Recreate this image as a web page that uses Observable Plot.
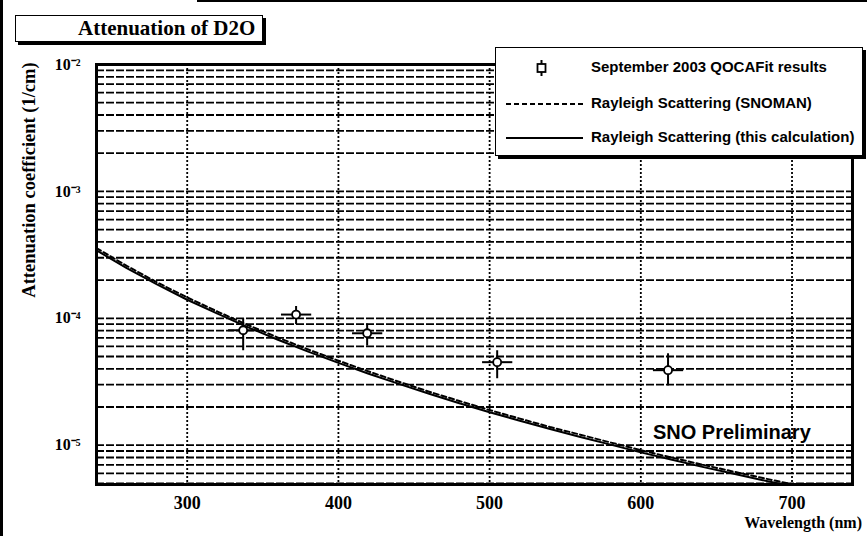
<!DOCTYPE html>
<html>
<head>
<meta charset="utf-8">
<script src="https://cdn.jsdelivr.net/npm/d3@7"></script>
<script src="https://cdn.jsdelivr.net/npm/@observablehq/plot@0.6"></script>
<style>
  html, body { margin: 0; padding: 0; background: #fff; }
  #chart { position: relative; width: 867px; height: 536px; overflow: hidden; background: #fff; }
  #chart > svg { position: absolute; left: 0; top: 0; }
  .title-box {
    position: absolute; left: 15px; top: 15px; width: 246px; height: 25px;
    border: 1px solid #000; box-shadow: 3px 3px 0 #000; background: #fff;
    font: bold 21px "Liberation Serif", serif; line-height: 25px;
    box-sizing: content-box; padding-left: 0; white-space: nowrap; overflow: hidden;
  }
  .title-box span { position: absolute; left: 62px; top: 0; }
  .legend {
    position: absolute; left: 495px; top: 47px; width: 366px; height: 107px;
    border: 1px solid #000; box-shadow: 3px 3px 0 #000; background: #fff;
  }
  .ylabel {
    position: absolute; left: 29px; top: 180px; white-space: nowrap;
    transform: translate(-50%, -50%) rotate(-90deg);
    font: bold 18.5px "Liberation Serif", serif;
  }
  .xlabel {
    position: absolute; right: 5px; top: 514px; white-space: nowrap;
    font: bold 16px "Liberation Serif", serif;
  }
  .edge { position: absolute; background: #000; }
</style>
</head>
<body>
<div id="chart"></div>
<script>
// Wavelength grid (nm) for the Rayleigh scattering curves
const wavelengths = [240, 260, 280, 300, 320, 340, 360, 380, 400, 420, 440, 460, 480,
                     500, 520, 540, 560, 580, 600, 620, 640, 660, 680, 700, 720, 740];
// Rayleigh scattering, this calculation (1/cm)
const rayleighCalc = [3.43e-4, 2.49e-4, 1.85e-4, 1.40e-4, 1.09e-4, 8.52e-5, 6.78e-5, 5.46e-5,
                      4.45e-5, 3.66e-5, 3.04e-5, 2.54e-5, 2.14e-5, 1.82e-5, 1.56e-5, 1.34e-5,
                      1.16e-5, 1.01e-5, 8.78e-6, 7.70e-6, 6.78e-6, 6.00e-6, 5.32e-6, 4.74e-6,
                      4.24e-6, 3.80e-6];
// Rayleigh scattering, SNOMAN (1/cm)
const rayleighSnoman = [3.57e-4, 2.59e-4, 1.92e-4, 1.46e-4, 1.13e-4, 8.86e-5, 7.05e-5, 5.68e-5,
                        4.63e-5, 3.81e-5, 3.16e-5, 2.64e-5, 2.23e-5, 1.89e-5, 1.62e-5, 1.39e-5,
                        1.21e-5, 1.05e-5, 9.13e-6, 8.01e-6, 7.05e-6, 6.24e-6, 5.53e-6, 4.93e-6,
                        4.41e-6, 3.95e-6];
// September 2003 QOCAFit results
const qocaWavelength = [337, 372, 419, 505, 618];
const qocaWavelengthErr = [10, 10, 10, 10, 10];
const qocaAtten = [8.05e-5, 1.07e-4, 7.62e-5, 4.51e-5, 3.90e-5];
const qocaAttenLow = [5.6e-5, 9.0e-5, 6.1e-5, 3.37e-5, 2.96e-5];
const qocaAttenHigh = [1.0e-4, 1.25e-4, 9.1e-5, 5.6e-5, 5.3e-5];

const xTicks = [300, 400, 500, 600, 700];
const yTicks = [1e-5, 1e-4, 1e-3, 1e-2];
const yTickLabels = ["10\u207B\u2075", "10\u207B\u2074", "10\u207B\u00B3", "10\u207B\u00B2"];
const legendLabels = ["September 2003 QOCAFit results",
                      "Rayleigh Scattering (SNOMAN)",
                      "Rayleigh Scattering (this calculation)"];

const yDomain = [4.9e-6, 1e-2];

(function draw() {
  // Log grid: every 1..9 x 10^k inside the y domain
  const yGrid = [];
  for (let e = -6; e <= -2; e++) {
    for (let m = 1; m <= 9; m++) {
      const v = m * Math.pow(10, e);
      if (v >= yDomain[0] && v <= yDomain[1] * 1.0001) yGrid.push(v);
    }
  }

  const calc = wavelengths.map((w, i) => ({w, v: rayleighCalc[i]}));
  const snoman = wavelengths.map((w, i) => ({w, v: rayleighSnoman[i]}));
  const qoca = qocaWavelength.map((w, i) => ({
    w, dw: qocaWavelengthErr[i], v: qocaAtten[i], lo: qocaAttenLow[i], hi: qocaAttenHigh[i]
  }));

  const plot = Plot.plot({
    width: 867,
    height: 536,
    marginLeft: 96,
    marginRight: 15,
    marginTop: 64,
    marginBottom: 52,
    style: {background: "transparent", color: "#000", fontFamily: "Liberation Serif, serif"},
    x: {domain: [240, 740]},
    y: {type: "log", domain: yDomain},
    marks: [
      Plot.ruleY(yGrid, {stroke: "#000", strokeWidth: 1.8, strokeDasharray: "8,2"}),
      Plot.ruleX(xTicks, {stroke: "#000", strokeWidth: 1.8, strokeDasharray: "2,2"}),
      Plot.line(snoman, {x: "w", y: "v", stroke: "#000", strokeWidth: 2, strokeDasharray: "5,3", clip: true}),
      Plot.line(calc, {x: "w", y: "v", stroke: "#000", strokeWidth: 2, clip: true}),
      Plot.link(qoca, {x1: "w", x2: "w", y1: "lo", y2: "hi", stroke: "#000", strokeWidth: 2}),
      Plot.link(qoca, {x1: d => d.w - d.dw, x2: d => d.w + d.dw, y1: "v", y2: "v", stroke: "#000", strokeWidth: 2}),
      Plot.dot(qoca, {x: "w", y: "v", r: 4, stroke: "#000", strokeWidth: 1.8, fill: "#fff"}),
      Plot.frame({stroke: "#000", strokeWidth: 3}),
      Plot.axisX(xTicks, {tickSize: 0, tickPadding: 12, fontSize: 18, fontWeight: "bold",
                          tickFormat: d => String(d), label: null}),
      Plot.axisY(yTicks, {tickSize: 0, tickPadding: 16, fontSize: 16, fontWeight: "bold",
                          tickFormat: d => yTickLabels[yTicks.indexOf(d)], label: null}),
      Plot.text(["SNO Preliminary"], {x: 608, y: 1.26e-5, text: d => d, textAnchor: "start",
                                      fontSize: 20, fontFamily: "Liberation Sans, sans-serif",
                                      fontWeight: "bold", fill: "#000"})
    ]
  });

  const chart = document.getElementById("chart");
  chart.appendChild(plot);

  function addDiv(cls, style, text) {
    const d = document.createElement("div");
    d.className = cls;
    Object.assign(d.style, style);
    if (text) d.textContent = text;
    chart.appendChild(d);
    return d;
  }

  // Pad edges
  addDiv("edge", {left: "0px", top: "0px", width: "3px", height: "536px"});
  addDiv("edge", {left: "197px", top: "0px", width: "670px", height: "2px"});

  // Title and axis titles
  const titleBox = addDiv("title-box", {});
  const titleText = document.createElement("span");
  titleText.textContent = "Attenuation of D2O";
  titleBox.appendChild(titleText);
  addDiv("ylabel", {}, "Attenuation coefficient (1/cm)");
  addDiv("xlabel", {}, "Wavelength (nm)");

  // Legend
  const legend = addDiv("legend", {});
  const ns = "http://www.w3.org/2000/svg";
  const lsvg = document.createElementNS(ns, "svg");
  lsvg.setAttribute("width", 366);
  lsvg.setAttribute("height", 107);
  const rowsY = [20, 56, 90];
  const sampleX0 = 10, sampleX1 = 87, textX = 95;
  function el(name, attrs) {
    const e = document.createElementNS(ns, name);
    for (const k in attrs) e.setAttribute(k, attrs[k]);
    lsvg.appendChild(e);
    return e;
  }
  const mx = (sampleX0 + sampleX1) / 2 - 3;
  el("line", {x1: mx, x2: mx, y1: rowsY[0] - 8, y2: rowsY[0] + 8, stroke: "#000", "stroke-width": 2});
  el("rect", {x: mx - 4, y: rowsY[0] - 4, width: 8, height: 8, fill: "#fff", stroke: "#000", "stroke-width": 1.8});
  el("line", {x1: sampleX0, x2: sampleX1, y1: rowsY[1], y2: rowsY[1], stroke: "#000", "stroke-width": 2, "stroke-dasharray": "5,3"});
  el("line", {x1: sampleX0, x2: sampleX1, y1: rowsY[2], y2: rowsY[2], stroke: "#000", "stroke-width": 2});
  legendLabels.forEach((t, i) => {
    const tx = el("text", {x: textX, y: rowsY[i], "dominant-baseline": "middle",
      "font-family": "Liberation Sans, sans-serif", "font-weight": "bold", "font-size": 15});
    tx.textContent = t;
  });
  legend.appendChild(lsvg);
})();
</script>
</body>
</html>
